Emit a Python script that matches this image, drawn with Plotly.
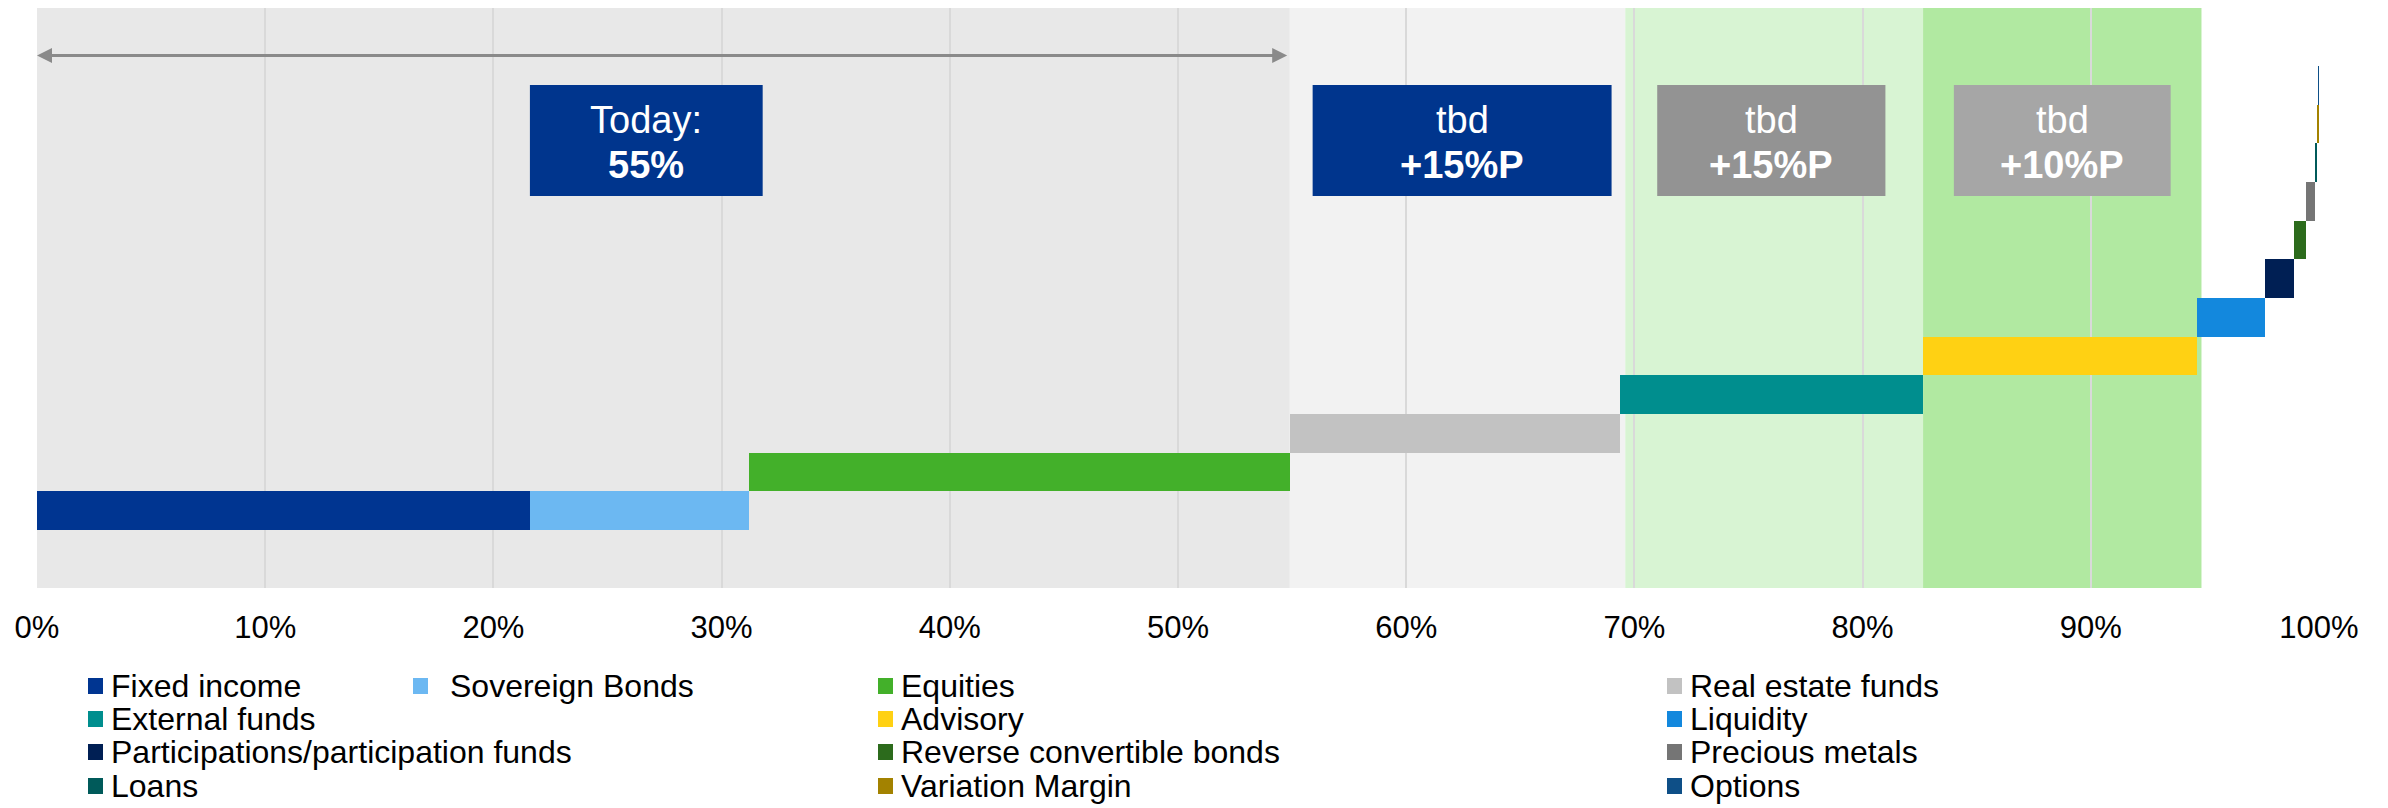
import plotly.graph_objects as go
from itertools import accumulate

# ---------------- data ----------------
categories = ["Fixed income", "Sovereign Bonds", "Equities", "Real estate funds",
              "External funds", "Advisory", "Liquidity",
              "Participations/participation funds", "Reverse convertible bonds",
              "Precious metals", "Loans", "Variation Margin", "Options"]
shares = [21.6, 9.6, 23.7, 14.45, 13.3, 12.0, 3.0, 1.25, 0.55, 0.38, 0.10, 0.04, 0.03]
rows = [0, 0, 1, 2, 3, 4, 5, 6, 7, 8, 9, 10, 11]
colors = ["#003591", "#6cb8f2", "#43b02a", "#c2c2c2", "#008e8e", "#ffd113",
          "#1388dd", "#001f54", "#2c6b1c", "#757575", "#005a5a", "#a38200", "#0e4f87"]

phase_bounds = [0, 54.9, 69.6, 82.65, 94.85]
phase_colors = ["#e8e8e8", "#f2f2f2", "#d8f4d3", "#b1e9a1"]

box_x0 = [21.6, 55.9, 71.0, 84.0]
box_x1 = [31.8, 69.0, 81.0, 93.5]
box_line1 = ["Today:", "tbd", "tbd", "tbd"]
box_line2 = ["55%", "+15%P", "+15%P", "+10%P"]
box_colors = ["#00358d", "#00358d", "#939393", "#a6a6a6"]

arrow_span = [0, 54.85]

tick_vals = [0, 10, 20, 30, 40, 50, 60, 70, 80, 90, 100]
tick_labels = ["0%", "10%", "20%", "30%", "40%", "50%", "60%", "70%", "80%", "90%", "100%"]

legend_col = [0, 1, 2, 3, 0, 2, 3, 0, 2, 3, 0, 2, 3]
legend_row = [0, 0, 0, 0, 1, 1, 1, 2, 2, 2, 3, 3, 3]

# ---------------- layout constants (pixels) ----------------
W, H = 2388, 808
ML, MR, MT, MB = 37, 69, 8, 220
PW, PH = W - ML - MR, H - MT - MB
FONT = "Arial, Liberation Sans, sans-serif"

col_marker_px = [88, 413, 878, 1667]
col_text_gap = [23, 37, 23, 23]
row_center_px = [686, 719, 752, 786]
box_top_px, box_bot_px = 85, 196
box_line_px = [120, 165]
arrow_px = 55.5


def px_x(px):
    return (px - ML) / PW


def px_y(py):
    return (H - MB - py) / PH


bases = [0] + list(accumulate(shares))[:-1]

fig = go.Figure()
for name, val, b, r, c in zip(categories, shares, bases, rows, colors):
    fig.add_trace(go.Bar(
        x=[val], base=[b], y=[r], orientation="h", name=name,
        marker=dict(color=c, line=dict(width=0)), width=1,
        showlegend=False,
        hovertemplate=name + ": %{x:.2f}%<extra></extra>"))

shapes = []
annotations = []

# phase backgrounds
for i, col in enumerate(phase_colors):
    shapes.append(dict(type="rect", xref="x", yref="paper",
                       x0=phase_bounds[i], x1=phase_bounds[i + 1], y0=0, y1=1,
                       fillcolor=col, line=dict(width=0), layer="below"))

# label boxes
for x0, x1, l1, l2, col in zip(box_x0, box_x1, box_line1, box_line2, box_colors):
    shapes.append(dict(type="rect", xref="x", yref="paper", x0=x0, x1=x1,
                       y0=px_y(box_bot_px), y1=px_y(box_top_px),
                       fillcolor=col, line=dict(width=0), layer="above"))
    for txt, py in zip([l1, f"<b>{l2}</b>"], box_line_px):
        annotations.append(dict(x=(x0 + x1) / 2, y=px_y(py), xref="x", yref="paper",
                                text=txt, showarrow=False,
                                font=dict(family=FONT, size=38, color="white"),
                                align="center", xanchor="center", yanchor="middle"))

# double-headed arrow
arrow_y = 13 - (arrow_px - MT) / (PH / 15)
annotations.append(dict(x=arrow_span[0], y=arrow_y, ax=arrow_span[1], ay=arrow_y,
                        xref="x", yref="y", axref="x", ayref="y", text="",
                        showarrow=True, arrowhead=2, arrowside="end+start",
                        arrowsize=1, arrowwidth=3, arrowcolor="#8a8a8a",
                        standoff=0, startstandoff=0))

# manual legend
for name, c, ci, ri in zip(categories, colors, legend_col, legend_row):
    mx = col_marker_px[ci]
    cy = row_center_px[ri]
    shapes.append(dict(type="rect", xref="paper", yref="paper",
                       x0=px_x(mx), x1=px_x(mx + 15),
                       y0=px_y(cy + 8), y1=px_y(cy - 8),
                       fillcolor=c, line=dict(width=0)))
    annotations.append(dict(x=px_x(mx + col_text_gap[ci] - 2), y=px_y(cy),
                            xref="paper", yref="paper", text=name,
                            showarrow=False, xanchor="left", yanchor="middle",
                            font=dict(family=FONT, size=32, color="black")))

fig.update_layout(
    width=W, height=H,
    margin=dict(l=ML, r=MR, t=MT, b=MB),
    paper_bgcolor="white", plot_bgcolor="white",
    barmode="overlay", bargap=0,
    showlegend=False,
    shapes=shapes, annotations=annotations,
    font=dict(family=FONT, size=30, color="black"),
    xaxis=dict(range=[0, 100], tickmode="array", tickvals=tick_vals, ticktext=tick_labels,
               showgrid=True, gridcolor="#d9d9d9", gridwidth=2,
               zeroline=False, showline=False,
               ticks="outside", ticklen=12, tickcolor="rgba(0,0,0,0)",
               tickfont=dict(family=FONT, size=31, color="black"),
               fixedrange=True),
    yaxis=dict(range=[-2, 13], visible=False, showgrid=False, zeroline=False,
               fixedrange=True),
)

fig.write_html("out.html")
